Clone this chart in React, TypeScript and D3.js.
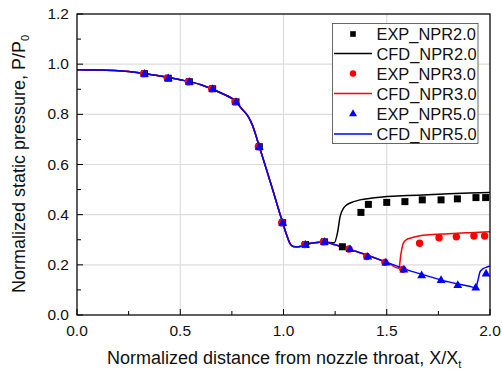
import React from "react";
import * as d3 from "d3";

const xTicks = [0, 0.5, 1.0, 1.5, 2.0];
const yTicks = [0, 0.2, 0.4, 0.6, 0.8, 1.0, 1.2];

const commonX = [0.327, 0.442, 0.544, 0.657, 0.77, 0.883, 0.996, 1.107, 1.198];
const commonY = [0.962, 0.944, 0.93, 0.902, 0.85, 0.671, 0.368, 0.281, 0.292];

const exp2X = [...commonX, 1.285, 1.375, 1.411, 1.5, 1.588, 1.672, 1.763, 1.842, 1.932, 1.979];
const exp2Y = [...commonY, 0.272, 0.409, 0.441, 0.449, 0.452, 0.459, 0.459, 0.463, 0.468, 0.468];

const exp3X = [...commonX, 1.322, 1.408, 1.496, 1.583, 1.664, 1.758, 1.842, 1.927, 1.979];
const exp3Y = [...commonY, 0.263, 0.233, 0.21, 0.182, 0.286, 0.308, 0.312, 0.315, 0.315];

const exp5X = [...commonX, 1.322, 1.408, 1.496, 1.583, 1.669, 1.763, 1.844, 1.931, 1.981];
const exp5Y = [...commonY, 0.263, 0.233, 0.21, 0.182, 0.159, 0.14, 0.12, 0.11, 0.166];

const baseX = [0, 0.1, 0.2, 0.3, 0.4, 0.5, 0.6, 0.7, 0.77, 0.8, 0.83, 0.85, 0.87, 0.883, 0.94, 0.996, 1.015, 1.031, 1.047, 1.065, 1.08, 1.107, 1.15, 1.2];
const baseY = [0.978, 0.977, 0.974, 0.966, 0.953, 0.938, 0.918, 0.884, 0.85, 0.82, 0.79, 0.756, 0.706, 0.671, 0.52, 0.368, 0.32, 0.286, 0.273, 0.272, 0.273, 0.281, 0.288, 0.291];

const cfd2X = [...baseX, 1.246, 1.262, 1.274, 1.29, 1.306, 1.34, 1.37, 1.43, 1.5, 1.6, 1.7, 1.8, 1.9, 2.0];
const cfd2Y = [...baseY, 0.288, 0.33, 0.392, 0.425, 0.439, 0.452, 0.459, 0.466, 0.472, 0.476, 0.479, 0.483, 0.486, 0.488];

const cfd3X = [...baseX, 1.25, 1.3, 1.35, 1.4, 1.45, 1.5, 1.559, 1.568, 1.58, 1.595, 1.613, 1.65, 1.693, 1.8, 1.9, 2.0];
const cfd3Y = [...baseY, 0.28, 0.268, 0.254, 0.24, 0.225, 0.21, 0.186, 0.24, 0.286, 0.3, 0.306, 0.314, 0.319, 0.324, 0.328, 0.332];

const cfd5X = [...baseX, 1.25, 1.3, 1.35, 1.4, 1.45, 1.5, 1.55, 1.6, 1.65, 1.7, 1.75, 1.8, 1.85, 1.9, 1.931, 1.942, 1.952, 1.965, 1.981, 2.0];
const cfd5Y = [...baseY, 0.28, 0.268, 0.254, 0.24, 0.225, 0.21, 0.195, 0.18, 0.167, 0.155, 0.143, 0.132, 0.123, 0.115, 0.108, 0.14, 0.173, 0.184, 0.19, 0.195];

const legendLabels = ["EXP_NPR2.0", "CFD_NPR2.0", "EXP_NPR3.0", "CFD_NPR3.0", "EXP_NPR5.0", "CFD_NPR5.0"];

const FONT = "'Liberation Sans', Arial, sans-serif";

export default function App() {
  const W = 502, H = 373;
  const m = { left: 77, right: 490, top: 14, bottom: 315 };
  const x = d3.scaleLinear().domain([0, 2]).range([m.left, m.right]);
  const y = d3.scaleLinear().domain([0, 1.2]).range([m.bottom, m.top]);
  const line = d3.line<[number, number]>().x(d => x(d[0])).y(d => y(d[1])).curve(d3.curveMonotoneX);
  const zip = (a: number[], b: number[]) => a.map((v, i) => [v, b[i]] as [number, number]);

  const xMinor = d3.range(0, 2.001, 0.25);
  const yMinor = d3.range(0, 1.201, 0.1);
  const tri = d3.symbol().type(d3.symbolTriangle).size(34)();
  const triLeg = d3.symbol().type(d3.symbolTriangle).size(28)();

  const legY = [34, 53.5, 73.5, 93.5, 113.5, 134];

  return (
    <svg width={W} height={H} style={{ position: "absolute", left: 0, top: 0 }} fontFamily={FONT}>
      <rect width={W} height={H} fill="white" />
      {xTicks.map(t => (
        <line key={"gx" + t} x1={x(t)} x2={x(t)} y1={m.top} y2={m.bottom} stroke="#dcdcdc" strokeWidth={1.2} />
      ))}
      {yTicks.map(t => (
        <line key={"gy" + t} x1={m.left} x2={m.right} y1={y(t)} y2={y(t)} stroke="#dcdcdc" strokeWidth={1.2} />
      ))}
      <path d={line(zip(cfd2X, cfd2Y)) || ""} fill="none" stroke="black" strokeWidth={1.5} />
      <path d={line(zip(cfd3X, cfd3Y)) || ""} fill="none" stroke="#ff0000" strokeWidth={1.5} />
      <path d={line(zip(cfd5X, cfd5Y)) || ""} fill="none" stroke="#0000ff" strokeWidth={1.5} />
      {exp2X.map((v, i) => (
        <rect key={"s" + i} x={x(v) - 3.5} y={y(exp2Y[i]) - 3.5} width={7} height={7} fill="black" />
      ))}
      {exp3X.map((v, i) => (
        <circle key={"c" + i} cx={x(v) - 1} cy={y(exp3Y[i])} r={3.7} fill="#ff0000" />
      ))}
      {exp5X.map((v, i) => (
        <path key={"t" + i} d={tri || ""} transform={`translate(${x(v)},${y(exp5Y[i]) + 0.5})`} fill="#0000ff" />
      ))}
      <rect x={m.left} y={m.top} width={m.right - m.left} height={m.bottom - m.top} fill="none" stroke="black" strokeWidth={1.2} />
      {xMinor.map(t => {
        const major = Math.abs(t * 2 - Math.round(t * 2)) < 1e-6;
        return <line key={"tx" + t} x1={x(t)} x2={x(t)} y1={m.bottom} y2={m.bottom - (major ? 6 : 4)} stroke="black" strokeWidth={1} />;
      })}
      {yMinor.map(t => {
        const major = Math.abs(t * 5 - Math.round(t * 5)) < 1e-6;
        return <line key={"ty" + t} x1={m.left} x2={m.left + (major ? 6 : 4)} y1={y(t)} y2={y(t)} stroke="black" strokeWidth={1} />;
      })}
      {xTicks.map(t => (
        <text key={"lx" + t} x={x(t)} y={336} textAnchor="middle" fontSize={15.5} fill="#111">{t.toFixed(1)}</text>
      ))}
      {yTicks.map(t => (
        <text key={"ly" + t} x={69} y={y(t) + 5} textAnchor="end" fontSize={15.5} fill="#111">{t.toFixed(1)}</text>
      ))}
      <text x={107} y={364} textAnchor="start" fontSize={18} fill="#111">
        Normalized distance from nozzle throat, X/X<tspan fontSize={11} dy={4}>t</tspan>
      </text>
      <text transform={`translate(25,293) rotate(-90)`} textAnchor="start" fontSize={18} fill="#111">
        Normalized static pressure, P/P<tspan fontSize={11} dy={4}>0</tspan>
      </text>
      <rect x={332.5} y={23.5} width={145.5} height={120} fill="white" stroke="#444" strokeWidth={0.8} />
      {legendLabels.map((lab, i) => (
        <text key={"lg" + i} x={376.5} y={legY[i] + 6} fontSize={16.4} fill="#111">{lab}</text>
      ))}
      <rect x={353 - 2.8} y={legY[0] - 2.8} width={5.6} height={5.6} fill="black" />
      <line x1={334} x2={372} y1={legY[1]} y2={legY[1]} stroke="black" strokeWidth={1.5} />
      <circle cx={353} cy={legY[2]} r={3.2} fill="#ff0000" />
      <line x1={334} x2={372} y1={legY[3]} y2={legY[3]} stroke="#ff0000" strokeWidth={1.5} />
      <path d={triLeg || ""} transform={`translate(353,${legY[4] + 0.5})`} fill="#0000ff" />
      <line x1={334} x2={372} y1={legY[5]} y2={legY[5]} stroke="#0000ff" strokeWidth={1.5} />
    </svg>
  );
}
